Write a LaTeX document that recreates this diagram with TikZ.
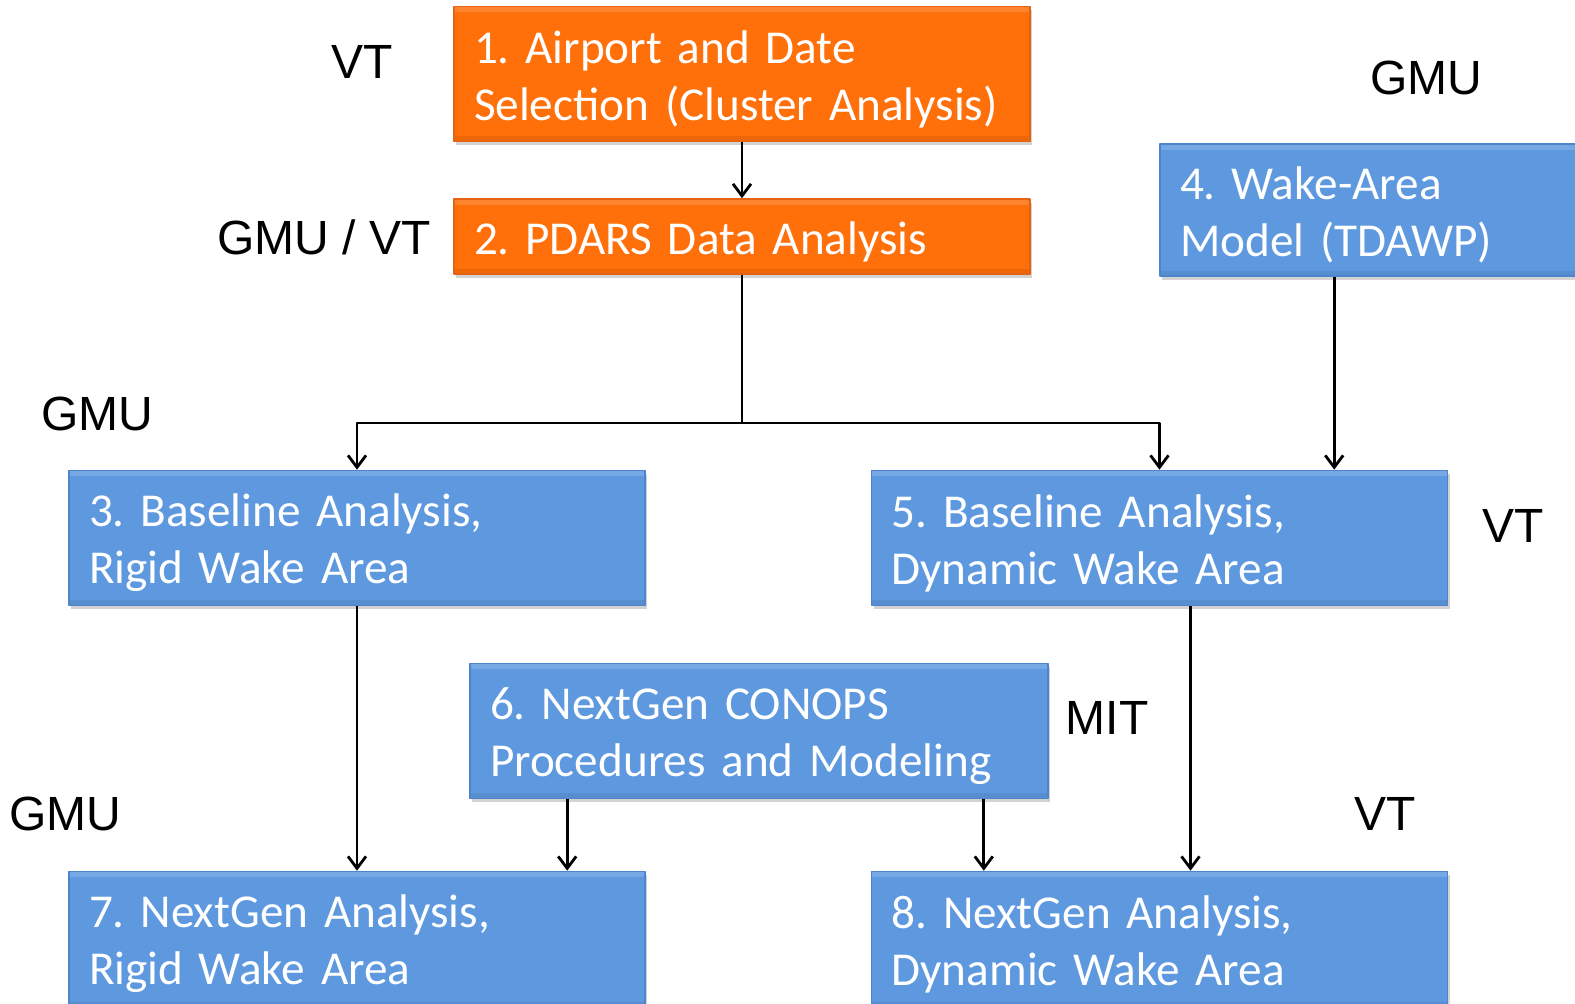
\documentclass[tikz,border=0pt]{standalone}
\usepackage{fontspec}
\setmainfont{Carlito}
\newfontfamily\labelfont{Liberation Sans}
\frenchspacing
\usetikzlibrary{calc,shadows,arrows.meta}
\definecolor{taskorange}{RGB}{255,111,10}
\definecolor{taskorangeedge}{RGB}{228,98,18}
\definecolor{taskblue}{RGB}{94,153,224}
\definecolor{taskblueedge}{RGB}{78,132,202}
\tikzset{
	task/.style={rectangle, draw, line width=0.8pt, inner xsep=10pt, inner ysep=0pt, align=left, text width=268pt, minimum height=67.5pt, text=white, font=\fontsize{23.6pt}{28.5pt}\selectfont, execute at begin node={\rule{0pt}{21.5pt}}, drop shadow={shadow xshift=1pt, shadow yshift=-2pt, opacity=0.35},
		path picture={\fill[white, opacity=0.15] (path picture bounding box.north west) rectangle ([yshift=-3pt]path picture bounding box.north east);
			\fill[black, opacity=0.07] (path picture bounding box.south west) rectangle ([yshift=2.5pt]path picture bounding box.south east);}},
	orangetask/.style={task, fill=taskorange, draw=taskorangeedge},
	bluetask/.style={task, fill=taskblue, draw=taskblueedge},
	who/.style={anchor=base, font=\labelfont\fontsize{24pt}{28pt}\selectfont},
	link/.style={line width=1.4pt, ->}
}
\begin{document}
\begin{tikzpicture}[x=0.5pt, y=-0.5pt, line join=round, >={Straight Barb[length=6pt,width=9pt]}]
	\useasboundingbox (0,0) rectangle (1575,1004);
	% task boxes
	\node[orangetask] (select) at (742,74) {1. Airport and Date\\Selection (Cluster Analysis)};
	\node[orangetask, minimum height=37.5pt] (pdars) at (742,236.5) {2. PDARS Data Analysis};
	\node[bluetask, text width=195pt, minimum height=66pt] (wakemodel) at (1375,210) {4. Wake-Area\\Model (TDAWP)};
	\node[bluetask] (baserigid) at (357,538) {3. Baseline Analysis,\\Rigid Wake Area};
	\node[bluetask] (basedyn) at (1159.5,538) {5. Baseline Analysis,\\Dynamic Wake Area};
	\node[bluetask, text width=269pt] (conops) at (759,731) {6. NextGen CONOPS\\Procedures and Modeling};
	\node[bluetask] (ngrigid) at (357,939) {7. NextGen Analysis,\\Rigid Wake Area};
	\node[bluetask] (ngdyn) at (1159.5,939) {8. NextGen Analysis,\\Dynamic Wake Area};
	% who does what
	\node[who] (whoselect) at (362,79) {VT};
	\node[who] (whopdars) at (324,255) {GMU / VT};
	\node[who] (whowake) at (1426,95) {GMU};
	\node[who] (whobaserigid) at (97,431) {GMU};
	\node[who] (whobasedyn) at (1513,543) {VT};
	\node[who] (whoconops) at (1107,735) {MIT};
	\node[who] (whongrigid) at (65,831) {GMU};
	\node[who] (whongdyn) at (1385,831) {VT};
	% connectors
	\coordinate (split) at (742,423);
	\coordinate (wakeout) at ($(wakemodel.south west)+(175,0)$);
	\coordinate (conopsleft) at ($(conops.south west)+(98,0)$);
	\coordinate (conopsright) at ($(conops.south east)+(-65,0)$);
	\coordinate (basedynout) at ($(basedyn.south)+(31,0)$);
	\draw[link] (select) -- (pdars);
	\draw[line width=1.4pt] (pdars) -- (split);
	\draw[link] (split) -| (baserigid);
	\draw[link] (split) -| (basedyn);
	\draw[link] (wakeout) -- (wakeout |- basedyn.north);
	\draw[link] (baserigid) -- (ngrigid);
	\draw[link] (conopsleft) -- (conopsleft |- ngrigid.north);
	\draw[link] (conopsright) -- (conopsright |- ngdyn.north);
	\draw[link] (basedynout) -- (basedynout |- ngdyn.north);
\end{tikzpicture}
\end{document}
